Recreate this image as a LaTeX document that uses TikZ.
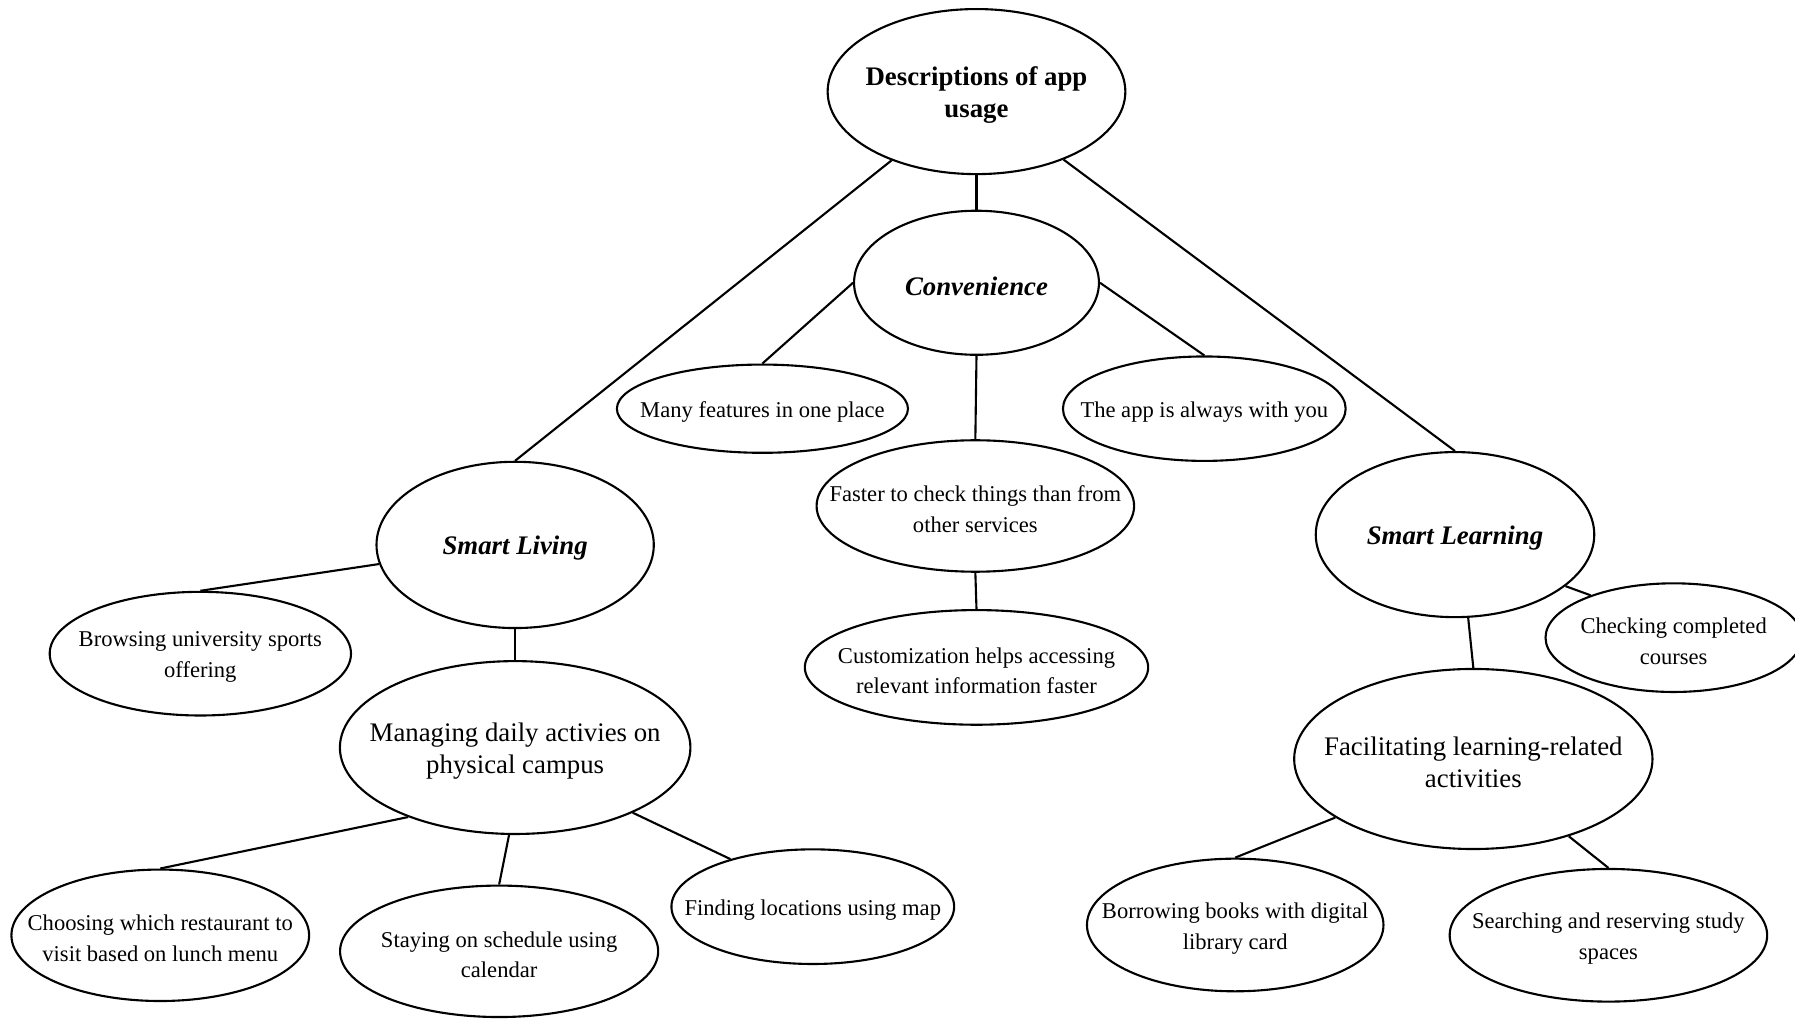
\documentclass[tikz,border=0pt]{standalone}
\usepackage{fontspec}
\setmainfont{Liberation Serif}
\usetikzlibrary{shapes.geometric}

\begin{document}
\begin{tikzpicture}[x=0.01908cm, y=-0.01908cm,
  bub/.style={ellipse, draw, line width=1pt, inner sep=0pt},
  small/.style={font=\fontsize{10.7}{14.6}\selectfont, align=center, yshift=-1.6pt},
  big/.style={font=\fontsize{12.7}{15.2}\selectfont, align=center, yshift=-1.6pt},
  head/.style={font=\fontsize{12.7}{15.2}\selectfont\bfseries, align=center, yshift=-1.8pt},
  theme/.style={font=\fontsize{12.7}{15.2}\selectfont\bfseries\itshape, align=center, yshift=-1.6pt}]
  \useasboundingbox (0,0) rectangle (1568,890);
  % root and convenience branch
  \node[bub, minimum width=4.96cm, minimum height=2.75cm, label={[head]center:{Descriptions of app\\usage}}] (desc) at (853,80) {};
  \node[bub, minimum width=4.08cm, minimum height=2.40cm, label={[theme]center:Convenience}] (conv) at (853,247) {};
  \node[bub, minimum width=4.85cm, minimum height=1.47cm, label={[small]center:Many features in one place}] (many) at (666,357) {};
  \node[bub, minimum width=4.71cm, minimum height=1.74cm, label={[small]center:The app is always with you}] (always) at (1052,357) {};
  \node[bub, minimum width=5.29cm, minimum height=2.19cm, label={[small]center:{Faster to check things than from\\other services}}] (faster) at (852,442) {};
  \node[bub, minimum width=5.72cm, minimum height=1.91cm, label={[small]center:{Customization helps accessing\\relevant information faster}}] (custom) at (853,583) {};
  % smart living branch
  \node[bub, minimum width=4.62cm, minimum height=2.77cm, label={[theme]center:Smart Living}] (sliv) at (450,476) {};
  \node[bub, minimum width=5.02cm, minimum height=2.06cm, label={[small]center:{Browsing university sports\\offering}}] (browse) at (175,571) {};
  \node[bub, minimum width=5.84cm, minimum height=2.88cm, label={[big]center:{Managing daily activies on\\physical campus}}] (manage) at (450,653) {};
  \node[bub, minimum width=4.96cm, minimum height=2.19cm, label={[small]center:{Choosing which restaurant to\\visit based on lunch menu}}] (choose) at (140,817) {};
  \node[bub, minimum width=5.30cm, minimum height=2.19cm, label={[small]center:{Staying on schedule using\\calendar}}] (stay) at (436,831) {};
  \node[bub, minimum width=4.71cm, minimum height=1.91cm, label={[small]center:Finding locations using map}] (find) at (710,792) {};
  % smart learning branch
  \node[bub, minimum width=4.64cm, minimum height=2.75cm, label={[theme]center:Smart Learning}] (slearn) at (1271,467) {};
  \node[bub, minimum width=4.27cm, minimum height=1.81cm, label={[small]center:{Checking completed\\courses}}] (check) at (1462,557) {};
  \node[bub, minimum width=5.97cm, minimum height=3.00cm, label={[big]center:{Facilitating learning-related\\activities}}] (facil) at (1287,663) {};
  \node[bub, minimum width=4.94cm, minimum height=2.21cm, label={[small]center:{Borrowing books with digital\\library card}}] (borrow) at (1079,808) {};
  \node[bub, minimum width=5.29cm, minimum height=2.21cm, label={[small]center:{Searching and reserving study\\spaces}}] (search) at (1405,817) {};
  % connectors
  \begin{scope}[line width=1pt]
    \draw (desc.south) -- (conv.north);
    \draw (desc.219) -- (sliv.north);
    \draw (desc.322) -- (slearn.north);
    \draw (conv.west) -- (many.north);
    \draw (conv.east) -- (always.north);
    \draw (conv.south) -- (faster.north);
    \draw (faster.south) -- (custom.north);
    \draw (sliv.188) -- (browse.north);
    \draw (sliv.south) -- (manage.north);
    \draw (manage.213) -- (choose.north);
    \draw (manage.266) -- (stay.north);
    \draw (manage.331) -- (find.150);
    \draw (slearn.335) -- (check.153);
    \draw (slearn.279) -- (facil.north);
    \draw (facil.203) -- (borrow.north);
    \draw (facil.321) -- (search.north);
  \end{scope}
\end{tikzpicture}
\end{document}
